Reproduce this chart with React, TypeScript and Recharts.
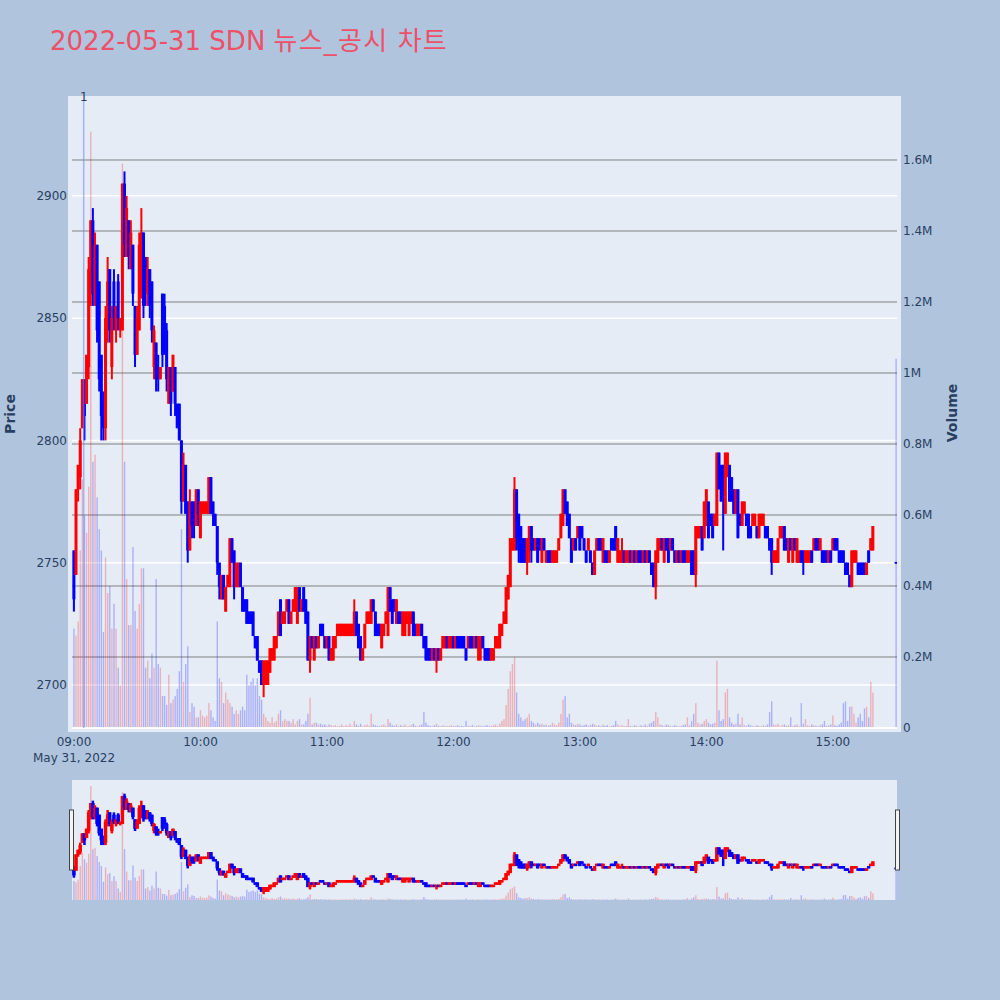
import React from 'react';
import { ComposedChart, Bar, XAxis, YAxis, CartesianGrid, ReferenceLine } from 'recharts';

// ---- data (1-minute candles, 2022-05-31, 09:00 .. 15:19 plus 15:30 close) ----
const MINUTES: number[] = [...Array.from({ length: 380 }, (_, i) => i), 390];

const OPEN: number[] = [
  2755, 2745, 2780, 2785, 2805, 2825, 2815, 2830, 2860, 2890,
  2860, 2880, 2865, 2835, 2815, 2805, 2845, 2870, 2830, 2865,
  2845, 2865, 2845, 2845, 2905, 2875, 2890, 2870, 2880, 2855,
  2835, 2845, 2860, 2885, 2875, 2860, 2870, 2865, 2830, 2840,
  2830, 2825, 2860, 2855, 2845, 2815, 2830, 2820, 2830, 2815,
  2815, 2800, 2775, 2790, 2775, 2755, 2775, 2775, 2765, 2780,
  2760, 2770, 2770, 2770, 2770, 2785, 2775, 2770, 2765, 2750,
  2735, 2745, 2730, 2740, 2740, 2760, 2755, 2740, 2740, 2750,
  2740, 2735, 2735, 2730, 2730, 2730, 2720, 2720, 2710, 2710,
  2700, 2700, 2700, 2705, 2710, 2710, 2715, 2720, 2735, 2725,
  2725, 2730, 2735, 2725, 2730, 2730, 2725, 2740, 2730, 2740,
  2735, 2730, 2710, 2720, 2710, 2720, 2715, 2725, 2725, 2720,
  2715, 2720, 2710, 2710, 2715, 2720, 2720, 2720, 2720, 2720,
  2720, 2720, 2720, 2720, 2730, 2725, 2720, 2710, 2715, 2725,
  2725, 2725, 2735, 2730, 2725, 2725, 2715, 2720, 2725, 2720,
  2740, 2735, 2735, 2725, 2730, 2730, 2720, 2720, 2725, 2720,
  2725, 2730, 2725, 2720, 2720, 2725, 2720, 2720, 2715, 2715,
  2710, 2715, 2710, 2715, 2710, 2715, 2715, 2720, 2715, 2715,
  2720, 2715, 2720, 2720, 2720, 2720, 2715, 2715, 2720, 2720,
  2715, 2720, 2710, 2715, 2720, 2715, 2715, 2715, 2710, 2710,
  2715, 2715, 2715, 2720, 2725, 2725, 2735, 2740, 2755, 2755,
  2780, 2770, 2765, 2760, 2760, 2750, 2755, 2765, 2760, 2755,
  2760, 2760, 2750, 2760, 2750, 2755, 2755, 2750, 2750, 2750,
  2755, 2760, 2765, 2780, 2775, 2770, 2760, 2755, 2760, 2760,
  2765, 2765, 2760, 2755, 2755, 2755, 2750, 2745, 2755, 2760,
  2760, 2750, 2755, 2755, 2750, 2760, 2760, 2765, 2750, 2750,
  2750, 2755, 2750, 2750, 2755, 2750, 2755, 2750, 2755, 2755,
  2750, 2755, 2750, 2755, 2750, 2750, 2740, 2750, 2755, 2760,
  2750, 2760, 2760, 2755, 2760, 2755, 2750, 2755, 2750, 2755,
  2755, 2750, 2750, 2755, 2755, 2745, 2760, 2760, 2765, 2760,
  2765, 2775, 2770, 2770, 2765, 2765, 2795, 2790, 2790, 2770,
  2785, 2790, 2785, 2780, 2770, 2780, 2770, 2765, 2770, 2770,
  2770, 2765, 2765, 2765, 2765, 2760, 2765, 2765, 2765, 2765,
  2760, 2760, 2750, 2750, 2750, 2760, 2760, 2765, 2760, 2750,
  2760, 2750, 2760, 2750, 2750, 2755, 2755, 2750, 2750, 2750,
  2755, 2755, 2760, 2760, 2755, 2755, 2755, 2755, 2750, 2755,
  2755, 2760, 2760, 2755, 2755, 2755, 2750, 2750, 2745, 2740,
  2750, 2750, 2750, 2750, 2750, 2750, 2745, 2755, 2755, 2755,
  2750,
];

const HIGH: number[] = [
  2755, 2780, 2790, 2805, 2825, 2825, 2835, 2875, 2890, 2895,
  2885, 2880, 2865, 2835, 2820, 2855, 2875, 2870, 2855, 2870,
  2855, 2868, 2850, 2905, 2910, 2900, 2890, 2890, 2880, 2855,
  2855, 2885, 2895, 2885, 2875, 2875, 2870, 2865, 2847, 2840,
  2835, 2830, 2860, 2860, 2848, 2830, 2830, 2835, 2830, 2815,
  2815, 2800, 2795, 2790, 2775, 2780, 2775, 2775, 2780, 2780,
  2775, 2775, 2775, 2775, 2785, 2785, 2775, 2770, 2765, 2750,
  2745, 2745, 2740, 2745, 2760, 2760, 2755, 2750, 2750, 2750,
  2740, 2735, 2735, 2730, 2730, 2730, 2720, 2720, 2710, 2710,
  2710, 2710, 2710, 2715, 2715, 2720, 2720, 2730, 2735, 2730,
  2730, 2735, 2735, 2730, 2735, 2740, 2740, 2740, 2735, 2740,
  2735, 2730, 2720, 2720, 2720, 2720, 2720, 2725, 2725, 2720,
  2720, 2720, 2715, 2720, 2720, 2725, 2725, 2725, 2725, 2725,
  2725, 2725, 2725, 2735, 2730, 2725, 2720, 2715, 2725, 2730,
  2730, 2735, 2735, 2730, 2725, 2725, 2725, 2725, 2730, 2740,
  2740, 2735, 2735, 2735, 2730, 2730, 2730, 2730, 2730, 2730,
  2730, 2730, 2725, 2725, 2725, 2725, 2720, 2720, 2715, 2715,
  2715, 2715, 2715, 2715, 2715, 2720, 2720, 2720, 2720, 2720,
  2720, 2720, 2720, 2720, 2720, 2720, 2715, 2720, 2720, 2720,
  2720, 2720, 2720, 2720, 2720, 2715, 2715, 2715, 2715, 2715,
  2720, 2720, 2725, 2725, 2730, 2740, 2745, 2760, 2760, 2785,
  2780, 2770, 2765, 2760, 2760, 2760, 2765, 2765, 2760, 2760,
  2760, 2760, 2760, 2760, 2755, 2755, 2755, 2755, 2755, 2755,
  2760, 2770, 2780, 2780, 2775, 2770, 2760, 2760, 2760, 2765,
  2765, 2765, 2760, 2755, 2760, 2755, 2750, 2755, 2760, 2760,
  2760, 2760, 2755, 2755, 2755, 2760, 2760, 2765, 2760, 2755,
  2760, 2755, 2755, 2755, 2755, 2755, 2755, 2755, 2755, 2755,
  2755, 2755, 2755, 2755, 2750, 2750, 2755, 2760, 2760, 2760,
  2760, 2760, 2760, 2760, 2760, 2755, 2755, 2755, 2755, 2755,
  2755, 2755, 2755, 2755, 2755, 2765, 2765, 2765, 2765, 2775,
  2780, 2775, 2770, 2770, 2770, 2795, 2795, 2790, 2790, 2795,
  2795, 2790, 2785, 2780, 2780, 2780, 2770, 2775, 2775, 2770,
  2770, 2765, 2770, 2770, 2765, 2770, 2770, 2770, 2765, 2765,
  2760, 2760, 2755, 2755, 2760, 2765, 2765, 2765, 2760, 2760,
  2760, 2760, 2760, 2760, 2755, 2755, 2755, 2755, 2755, 2755,
  2755, 2760, 2760, 2760, 2760, 2755, 2755, 2755, 2755, 2755,
  2760, 2760, 2760, 2755, 2755, 2755, 2750, 2750, 2745, 2755,
  2755, 2755, 2750, 2750, 2750, 2750, 2750, 2755, 2760, 2765,
  2750,
];

const LOW: number[] = [
  2730, 2745, 2775, 2780, 2805, 2800, 2815, 2825, 2855, 2855,
  2855, 2840, 2820, 2800, 2800, 2800, 2840, 2840, 2825, 2845,
  2840, 2845, 2842, 2845, 2875, 2875, 2870, 2870, 2855, 2830,
  2835, 2845, 2858, 2850, 2855, 2855, 2850, 2840, 2825, 2820,
  2820, 2825, 2830, 2835, 2820, 2815, 2810, 2820, 2810, 2805,
  2800, 2770, 2775, 2770, 2750, 2755, 2760, 2760, 2765, 2765,
  2760, 2770, 2770, 2770, 2770, 2770, 2765, 2765, 2745, 2735,
  2735, 2735, 2730, 2740, 2740, 2750, 2735, 2740, 2740, 2740,
  2730, 2730, 2725, 2725, 2725, 2720, 2715, 2710, 2705, 2700,
  2695, 2700, 2700, 2705, 2710, 2710, 2715, 2720, 2720, 2725,
  2725, 2730, 2725, 2725, 2730, 2730, 2725, 2730, 2730, 2730,
  2725, 2710, 2705, 2715, 2710, 2715, 2715, 2720, 2720, 2715,
  2715, 2710, 2710, 2710, 2715, 2720, 2720, 2720, 2720, 2720,
  2720, 2720, 2720, 2720, 2720, 2715, 2710, 2710, 2715, 2725,
  2725, 2725, 2730, 2720, 2720, 2720, 2715, 2720, 2725, 2720,
  2730, 2725, 2730, 2725, 2725, 2725, 2720, 2720, 2725, 2720,
  2725, 2720, 2720, 2720, 2720, 2720, 2715, 2710, 2710, 2710,
  2710, 2710, 2705, 2710, 2710, 2715, 2715, 2715, 2715, 2715,
  2715, 2715, 2715, 2715, 2715, 2715, 2710, 2715, 2715, 2715,
  2715, 2715, 2710, 2710, 2715, 2710, 2710, 2710, 2710, 2710,
  2715, 2715, 2715, 2720, 2725, 2725, 2735, 2740, 2755, 2755,
  2755, 2750, 2750, 2750, 2750, 2745, 2750, 2750, 2755, 2755,
  2750, 2755, 2750, 2755, 2750, 2750, 2750, 2750, 2750, 2750,
  2755, 2760, 2765, 2770, 2765, 2760, 2750, 2755, 2755, 2760,
  2755, 2760, 2755, 2750, 2755, 2750, 2745, 2745, 2755, 2755,
  2755, 2750, 2750, 2750, 2750, 2755, 2755, 2755, 2750, 2750,
  2750, 2750, 2750, 2750, 2750, 2750, 2750, 2750, 2750, 2750,
  2750, 2750, 2750, 2750, 2745, 2740, 2735, 2750, 2755, 2755,
  2750, 2755, 2750, 2755, 2755, 2750, 2750, 2750, 2750, 2750,
  2750, 2750, 2750, 2745, 2745, 2740, 2760, 2760, 2755, 2760,
  2765, 2760, 2765, 2760, 2765, 2765, 2780, 2775, 2755, 2770,
  2785, 2775, 2775, 2770, 2770, 2760, 2765, 2765, 2770, 2765,
  2760, 2760, 2765, 2765, 2760, 2760, 2765, 2765, 2760, 2760,
  2755, 2745, 2750, 2750, 2750, 2760, 2760, 2755, 2755, 2750,
  2755, 2750, 2755, 2750, 2750, 2750, 2745, 2750, 2750, 2750,
  2750, 2755, 2755, 2755, 2755, 2750, 2750, 2750, 2750, 2750,
  2755, 2755, 2755, 2750, 2750, 2750, 2745, 2745, 2740, 2740,
  2750, 2750, 2745, 2745, 2745, 2745, 2745, 2750, 2755, 2755,
  2750,
];

const CLOSE: number[] = [
  2735, 2780, 2790, 2800, 2825, 2810, 2835, 2870, 2890, 2860,
  2880, 2845, 2825, 2810, 2805, 2850, 2865, 2845, 2850, 2850,
  2855, 2850, 2850, 2905, 2880, 2895, 2875, 2885, 2860, 2835,
  2850, 2880, 2885, 2855, 2860, 2870, 2855, 2845, 2845, 2825,
  2825, 2830, 2835, 2845, 2825, 2830, 2815, 2835, 2815, 2805,
  2800, 2775, 2790, 2770, 2755, 2775, 2765, 2765, 2780, 2770,
  2775, 2775, 2775, 2775, 2785, 2770, 2770, 2765, 2750, 2740,
  2745, 2735, 2740, 2745, 2760, 2750, 2740, 2750, 2750, 2740,
  2730, 2730, 2725, 2725, 2725, 2720, 2715, 2710, 2705, 2700,
  2710, 2710, 2710, 2715, 2715, 2720, 2720, 2730, 2720, 2730,
  2730, 2735, 2725, 2730, 2735, 2740, 2740, 2730, 2735, 2730,
  2725, 2710, 2720, 2715, 2720, 2715, 2720, 2720, 2720, 2715,
  2720, 2710, 2715, 2720, 2720, 2725, 2725, 2725, 2725, 2725,
  2725, 2725, 2725, 2730, 2720, 2715, 2710, 2715, 2725, 2730,
  2730, 2735, 2730, 2720, 2720, 2720, 2725, 2725, 2730, 2740,
  2730, 2725, 2730, 2735, 2725, 2725, 2730, 2730, 2730, 2730,
  2730, 2720, 2720, 2725, 2725, 2720, 2715, 2710, 2710, 2710,
  2715, 2710, 2715, 2710, 2715, 2720, 2720, 2715, 2720, 2720,
  2715, 2720, 2715, 2715, 2715, 2715, 2710, 2720, 2715, 2715,
  2720, 2715, 2720, 2720, 2715, 2710, 2710, 2710, 2715, 2715,
  2720, 2720, 2725, 2725, 2730, 2740, 2745, 2760, 2760, 2780,
  2760, 2755, 2750, 2750, 2750, 2760, 2765, 2755, 2755, 2760,
  2750, 2755, 2760, 2755, 2755, 2750, 2750, 2755, 2755, 2755,
  2760, 2770, 2780, 2770, 2765, 2760, 2750, 2760, 2755, 2765,
  2755, 2760, 2755, 2750, 2760, 2750, 2745, 2755, 2760, 2755,
  2755, 2760, 2750, 2750, 2755, 2755, 2755, 2755, 2760, 2755,
  2755, 2750, 2755, 2755, 2750, 2755, 2750, 2755, 2750, 2750,
  2755, 2750, 2755, 2750, 2745, 2740, 2755, 2760, 2760, 2755,
  2760, 2755, 2750, 2760, 2755, 2750, 2755, 2750, 2755, 2750,
  2750, 2755, 2755, 2745, 2745, 2765, 2765, 2765, 2755, 2775,
  2780, 2760, 2765, 2760, 2770, 2795, 2780, 2775, 2780, 2795,
  2795, 2775, 2775, 2770, 2780, 2760, 2765, 2775, 2775, 2765,
  2760, 2760, 2770, 2770, 2760, 2770, 2770, 2770, 2760, 2760,
  2755, 2750, 2755, 2755, 2760, 2765, 2765, 2755, 2755, 2760,
  2755, 2760, 2755, 2760, 2755, 2750, 2750, 2755, 2755, 2755,
  2750, 2760, 2755, 2755, 2760, 2750, 2750, 2750, 2755, 2750,
  2760, 2755, 2755, 2750, 2750, 2750, 2745, 2745, 2740, 2755,
  2755, 2755, 2745, 2745, 2745, 2745, 2750, 2750, 2760, 2765,
  2750,
];

// volume in thousands of shares
const VOLUME_K: number[] = [
  280, 260, 300, 500, 700, 600, 550, 680, 1680, 750,
  770, 650, 560, 500, 270, 480, 380, 400, 280, 350,
  280, 170, 120, 1590, 750, 420, 290, 290, 510, 330,
  280, 350, 450, 450, 170, 190, 140, 210, 170, 420,
  180, 170, 90, 90, 65, 150, 70, 80, 90, 110,
  160, 560, 130, 180, 230, 45, 70, 60, 30, 30,
  50, 35, 30, 35, 70, 50, 30, 20, 300, 140,
  130, 70, 100, 80, 70, 60, 40, 50, 40, 50,
  60, 50, 150, 120, 130, 140, 120, 140, 90, 80,
  40, 30, 20, 15, 30, 15, 20, 40, 50, 20,
  25, 20, 20, 15, 25, 10, 20, 25, 10, 10,
  20, 40, 85, 10, 15, 15, 10, 12, 8, 10,
  6, 10, 8, 6, 8, 5, 6, 10, 5, 8,
  6, 12, 5, 20, 10, 6, 12, 5, 8, 10,
  6, 40, 10, 8, 6, 5, 8, 10, 6, 25,
  15, 8, 6, 10, 5, 8, 6, 10, 5, 6,
  8, 12, 6, 5, 8, 10, 45, 15, 8, 6,
  5, 8, 12, 6, 5, 8, 6, 5, 6, 8,
  5, 6, 8, 5, 6, 5, 20, 6, 5, 8,
  5, 6, 8, 6, 5, 6, 8, 5, 6, 8,
  10, 6, 12, 20, 25, 65, 110, 160, 180, 200,
  100, 40, 30, 20, 25, 30, 40, 20, 15, 10,
  15, 10, 12, 8, 10, 6, 8, 15, 10, 8,
  15, 40, 80, 90, 30, 40, 15, 10, 8, 12,
  10, 6, 8, 10, 6, 8, 12, 10, 6, 8,
  5, 10, 6, 8, 5, 6, 8, 20, 10, 6,
  8, 5, 6, 25, 6, 5, 8, 6, 5, 8,
  6, 10, 6, 12, 15, 20, 45, 30, 10, 8,
  6, 10, 8, 6, 5, 8, 6, 5, 6, 8,
  10, 30, 8, 20, 40, 70, 15, 10, 12, 20,
  25, 15, 10, 12, 15, 190, 50, 20, 25, 100,
  110, 30, 15, 10, 12, 40, 10, 30, 8, 6,
  10, 8, 6, 5, 8, 6, 5, 8, 6, 10,
  45, 75, 10, 8, 12, 6, 8, 10, 6, 8,
  30, 6, 8, 10, 6, 70, 12, 25, 8, 6,
  10, 8, 6, 5, 8, 10, 20, 6, 8, 10,
  35, 8, 6, 10, 15, 70, 75, 20, 60, 60,
  40, 15, 30, 40, 20, 55, 60, 30, 130, 100,
  1040,
];

const NEWS = [{ t: 4.6, label: '1' }];

const TIME_TICKS = [0, 60, 120, 180, 240, 300, 360];
const TIME_LABELS = ['09:00', '10:00', '11:00', '12:00', '13:00', '14:00', '15:00'];
const DATE_LABEL = 'May 31, 2022';
const PRICE_TICKS = [2700, 2750, 2800, 2850, 2900];
const VOLUME_TICKS = [0, 200000, 400000, 600000, 800000, 1000000, 1200000, 1400000, 1600000];
const VOLUME_GRID = [200000, 400000, 600000, 800000, 1000000, 1200000, 1400000, 1600000];

const X_DOMAIN: [number, number] = [-0.95, 390.4];
const PRICE_DOMAIN: [number, number] = [2682.4, 2939.2];
const VOL_DOMAIN: [number, number] = [0, 1769000];

const TITLE_LATIN = '2022-05-31 SDN ';
const TITLE_KOREAN = '뉴스_공시 차트';

// ---- styles ----
const FONT = '"DejaVu Sans", Verdana, sans-serif';
const TEXT_COLOR = '#2a3f5f';
const UP = '#ff0000';
const DOWN = '#0000ff';
const PAGE_BG = '#b0c4de';
const PLOT_BG = '#e5ecf6';

const rows = MINUTES.map((t, i) => ({
  t,
  open: OPEN[i],
  high: HIGH[i],
  low: LOW[i],
  close: CLOSE[i],
  volume: VOLUME_K[i] * 1000,
}));

const candleRange = (d: any) => [PRICE_DOMAIN[0], d.high];

function candleShape(bodyW: number, wickW: number) {
  return (props: any) => {
    const { x, y, width, height, payload } = props;
    if (!payload || !isFinite(x) || !isFinite(y) || !isFinite(height)) return <g />;
    const span = payload.high - PRICE_DOMAIN[0];
    const ppu = span > 0 ? height / span : 0;
    const py = (v: number) => y + (payload.high - v) * ppu;
    const cx = x + width / 2;
    const color = payload.close > payload.open ? UP : DOWN;
    const hi = py(payload.high);
    const lo = py(payload.low);
    let top = py(Math.max(payload.open, payload.close));
    let bot = py(Math.min(payload.open, payload.close));
    if (bot - top < 1.5) {
      const mid = (top + bot) / 2;
      top = mid - 0.75;
      bot = mid + 0.75;
    }
    return (
      <g>
        <rect x={cx - wickW / 2} y={hi} width={wickW} height={Math.max(lo - hi, 1)} fill={color} />
        <rect x={cx - bodyW / 2} y={top} width={bodyW} height={bot - top} fill={color} />
      </g>
    );
  };
}

function volumeShape(w: number) {
  return (props: any) => {
    const { x, y, width, height, payload } = props;
    if (!payload || !(height > 0) || !isFinite(x)) return <g />;
    const cx = x + width / 2;
    return (
      <rect
        x={cx - w / 2}
        y={y}
        width={w}
        height={height}
        fill={payload.close > payload.open ? UP : DOWN}
        fillOpacity={0.25}
      />
    );
  };
}

const TimeTick = (props: any) => {
  const { x, y, payload } = props;
  const i = TIME_TICKS.indexOf(payload.value);
  return (
    <g>
      <text x={x} y={y} dy={18} textAnchor="middle" fill={TEXT_COLOR} fontSize={12} fontFamily={FONT}>
        {TIME_LABELS[i]}
      </text>
      {i === 0 && (
        <text x={x} y={y} dy={34} textAnchor="middle" fill={TEXT_COLOR} fontSize={12} fontFamily={FONT}>
          {DATE_LABEL}
        </text>
      )}
    </g>
  );
};

const newsLabel = (text: string) => (p: any) => {
  const vb = (p && p.viewBox) || {};
  const x = vb.x ?? 0;
  const y = vb.y ?? 0;
  return (
    <text x={x} y={y + 0.5} textAnchor="middle" fill={TEXT_COLOR} fontSize={12} fontFamily={FONT}>
      {text}
    </text>
  );
};

const volFormat = (v: number) => (v === 0 ? '0' : `${+(v / 1e6).toFixed(1)}M`);

const tickStyle = { fill: TEXT_COLOR, fontSize: 12, fontFamily: FONT };

export default function App() {
  return (
    <div style={{ position: 'absolute', left: 0, top: 0, width: 1000, height: 1000, background: PAGE_BG, overflow: 'hidden' }}>
      <svg width={1000} height={1000} style={{ position: 'absolute', left: 0, top: 0 }}>
        <rect x={68} y={96} width={833} height={636} fill={PLOT_BG} />
        <rect x={72} y={780} width={825} height={120} fill={PLOT_BG} />
        <text x={50} y={50} fontSize={26} fill="#ee5068" fontFamily='"DejaVu Sans", "Noto Sans CJK KR", sans-serif'>
          <tspan>{TITLE_LATIN}</tspan>
          <tspan letterSpacing={1.2}>{TITLE_KOREAN}</tspan>
        </text>
        <text transform="translate(15,414) rotate(-90)" textAnchor="middle" fontSize={14} fontWeight="bold" fill={TEXT_COLOR} fontFamily={FONT}>
          Price
        </text>
        <text transform="translate(957,413) rotate(-90)" textAnchor="middle" fontSize={14} fontWeight="bold" fill={TEXT_COLOR} fontFamily={FONT}>
          Volume
        </text>
      </svg>

      <div style={{ position: 'absolute', left: 0, top: 0 }}>
        <ComposedChart width={1000} height={780} data={rows} margin={{ top: 100, right: 43, bottom: 22, left: 12 }}>
          <CartesianGrid
            xAxisId="t"
            yAxisId="price"
            vertical={false}
            horizontalValues={PRICE_TICKS}
            stroke="#ffffff"
            strokeWidth={1.5}
          />
          <CartesianGrid
            xAxisId="t"
            yAxisId="vol"
            vertical={false}
            horizontalValues={VOLUME_GRID}
            stroke="#808080"
            strokeWidth={1}
          />
          <XAxis
            xAxisId="t"
            type="number"
            dataKey="t"
            domain={X_DOMAIN}
            ticks={TIME_TICKS}
            interval={0}
            allowDataOverflow
            axisLine={false}
            tickLine={false}
            tickSize={0}
            tickMargin={0}
            height={30}
            tick={<TimeTick />}
          />
          <XAxis xAxisId="tv" type="number" dataKey="t" domain={X_DOMAIN} allowDataOverflow hide />
          <YAxis
            yAxisId="price"
            orientation="left"
            domain={PRICE_DOMAIN}
            ticks={PRICE_TICKS}
            allowDataOverflow
            axisLine={false}
            tickLine={false}
            tickSize={0}
            tickMargin={5}
            width={60}
            tick={tickStyle}
          />
          <YAxis
            yAxisId="vol"
            orientation="right"
            domain={VOL_DOMAIN}
            ticks={VOLUME_TICKS}
            allowDataOverflow
            axisLine={false}
            tickLine={false}
            tickSize={0}
            tickMargin={6}
            width={60}
            tick={tickStyle}
            tickFormatter={volFormat}
          />
          <Bar xAxisId="tv" yAxisId="vol" dataKey="volume" barSize={2} shape={volumeShape(1.4)} isAnimationActive={false} />
          <ReferenceLine xAxisId="t" yAxisId="vol" y={0} stroke="#ffffff" strokeWidth={2} />
          {NEWS.map((n) => (
            <ReferenceLine
              key={n.t}
              xAxisId="t"
              yAxisId="price"
              x={n.t}
              stroke="#6f8cff"
              strokeOpacity={0.6}
              strokeWidth={1.5}
              label={newsLabel(n.label)}
            />
          ))}
          <Bar xAxisId="t" yAxisId="price" dataKey={candleRange} barSize={3} shape={candleShape(3, 2)} isAnimationActive={false} />
        </ComposedChart>
      </div>

      <div style={{ position: 'absolute', left: 0, top: 780 }}>
        <ComposedChart width={1000} height={120} data={rows} margin={{ top: 0, right: 103, bottom: 0, left: 72 }}>
          <XAxis xAxisId="t" type="number" dataKey="t" domain={X_DOMAIN} allowDataOverflow hide />
          <XAxis xAxisId="tv" type="number" dataKey="t" domain={X_DOMAIN} allowDataOverflow hide />
          <YAxis yAxisId="price" domain={PRICE_DOMAIN} allowDataOverflow hide />
          <YAxis yAxisId="vol" domain={VOL_DOMAIN} allowDataOverflow hide />
          <Bar xAxisId="tv" yAxisId="vol" dataKey="volume" barSize={2} shape={volumeShape(1.4)} isAnimationActive={false} />
          <Bar xAxisId="t" yAxisId="price" dataKey={candleRange} barSize={3} shape={candleShape(3.5, 2.5)} isAnimationActive={false} />
        </ComposedChart>
      </div>

      <svg width={1000} height={1000} style={{ position: 'absolute', left: 0, top: 0, pointerEvents: 'none' }}>
        <rect x={69.5} y={810} width={4} height={60} fill="#f4f4f4" stroke="#444444" strokeWidth={1} />
        <rect x={895.5} y={810} width={4} height={60} fill="#f4f4f4" stroke="#444444" strokeWidth={1} />
      </svg>
    </div>
  );
}
